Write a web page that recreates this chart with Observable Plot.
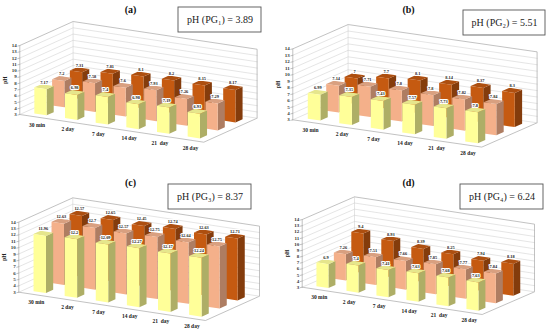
<!DOCTYPE html>
<html><head><meta charset="utf-8">
<style>html,body{margin:0;padding:0;background:#fff}svg{display:block}</style>
<script src="https://cdn.jsdelivr.net/npm/d3@7"></script>
<script src="https://cdn.jsdelivr.net/npm/@observablehq/plot@0.6"></script>
</head><body><div id="chart"></div>
<script>
const days = ["30 min","2 day","7 day","14 day","21  day","28 day"];
const phTicks = [3,4,5,6,7,8,9,10,11,12,13,14];
const titles = ["(a)","(b)","(c)","(d)"];
const boxes = ["pH (PG₁) = 3.89","pH (PG₂) = 5.51","pH (PG₃) = 8.37","pH (PG₄) = 6.24"];
const yellowA = [7.17,6.98,7.4,6.98,7.19,6.93];
const salmonA = [7.2,7.58,7.6,7.93,7.26,7.29];
const orangeA = [7.31,7.81,8.1,8.2,8.15,8.17];
const yellowB = [6.99,7.35,7.43,7.57,7.73,7.8];
const salmonB = [7.14,7.71,7.8,7.8,7.82,7.84];
const orangeB = [7,7.7,8.1,8.14,8.37,8.3];
const yellowC = [11.96,12.2,12.09,12.27,12.17,12.24];
const salmonC = [12.63,12.7,12.57,12.75,12.64,12.75];
const orangeC = [12.57,12.65,12.45,12.74,12.63,12.71];
const yellowD = [6.9,7.4,7.41,7.63,7.68,7.63];
const salmonD = [7.26,7.51,7.66,7.85,7.77,7.84];
const orangeD = [9.4,8.93,8.39,8.25,7.94,8.18];
const seriesColors = [
  {front:"#ffff99",top:"#e6e68c",side:"#aeae66"},
  {front:"#f4b08a",top:"#d9a080",side:"#ae7d62"},
  {front:"#c55a11",top:"#ad4f10",side:"#843c0c"}
];
const frames = [
  {ox:19.3,oy:114,dx:[184,27.7],dz:[53.3,-24],u:6.27,title:[130,9],box:[178,7,261,32]},
  {ox:292.3,oy:119.3,dx:[189,27.3],dz:[55.3,-24.3],u:6.45,title:[408,9],box:[463,10,545,35]},
  {ox:18.3,oy:291.7,dx:[186.7,28.3],dz:[54,-24.3],u:6.37,title:[130,182],box:[168,184,251,209]},
  {ox:301.7,oy:286.7,dx:[180,27.3],dz:[52.3,-22.7],u:6.15,title:[408,182],box:[460,184,543,209]}
];
const panels = [[yellowA,salmonA,orangeA],[yellowB,salmonB,orangeB],[yellowC,salmonC,orangeC],[yellowD,salmonD,orangeD]];
const serif = "'Liberation Serif','Times New Roman',serif";

function proj(f,a,b,v){
  return {x:f.ox+a*f.dx[0]+b*f.dz[0], y:f.oy+a*f.dx[1]+b*f.dz[1]-(v-3)*f.u};
}
const marks = [];
const poly = (pts,style)=>marks.push(Plot.line(pts,{x:"x",y:"y",curve:"linear",...style}));
const grid = {stroke:"#d4d4d4",strokeWidth:0.6};
const frameLine = {stroke:"#a8a8a8",strokeWidth:0.7};

frames.forEach((f,p)=>{
  phTicks.slice(1,-1).forEach(t=>{
    poly([proj(f,0,0,t),proj(f,0,1,t),proj(f,1,1,t)],grid);
  });
  poly([proj(f,0,0,3),proj(f,0,0,14),proj(f,0,1,14),proj(f,1,1,14),proj(f,1,1,3),proj(f,1,0,3),proj(f,0,0,3)],frameLine);
  poly([proj(f,0,0,3),proj(f,0,1,3),proj(f,1,1,3)],{stroke:"#c8c8c8",strokeWidth:0.5});
  poly([proj(f,0,1,3),proj(f,0,1,14)],{stroke:"#c8c8c8",strokeWidth:0.5});
  phTicks.forEach(t=>{
    const a=proj(f,0,0,t);
    poly([a,{x:a.x-2,y:a.y+0.5}],frameLine);
  });
  marks.push(Plot.text(phTicks,{x:t=>proj(f,0,0,t).x-3,y:t=>proj(f,0,0,t).y,text:d=>String(d),textAnchor:"end",fontSize:5,fontFamily:serif,fontWeight:"bold",fill:"#333"}));
  const mid=proj(f,0,0,8.5);
  marks.push(Plot.text(["pH"],{x:()=>mid.x-14.5,y:()=>mid.y,text:d=>d,rotate:-90,fontSize:5.5,fontFamily:serif,fontWeight:"bold",fill:"#222"}));
  days.forEach((d,i)=>{
    const a=proj(f,(i+.5)/6,0,3);
    marks.push(Plot.text([d],{x:()=>a.x+2,y:()=>a.y+8,text:t=>t,fontSize:5.5,fontFamily:serif,fontWeight:"bold",fill:"#222"}));
  });
  const labels=[];
  for(let s=2;s>=0;s--){
    days.forEach((d,i)=>{
      const v=panels[p][s][i];
      const a0=(i+.3)/6,a1=(i+.7)/6,b0=(s+.3)/3,b1=(s+.7)/3,c=seriesColors[s];
      poly([proj(f,a1,b0,3),proj(f,a1,b1,3),proj(f,a1,b1,v),proj(f,a1,b0,v)],{fill:c.side,stroke:"none"});
      poly([proj(f,a0,b0,v),proj(f,a1,b0,v),proj(f,a1,b1,v),proj(f,a0,b1,v)],{fill:c.top,stroke:"none"});
      poly([proj(f,a0,b0,3),proj(f,a1,b0,3),proj(f,a1,b0,v),proj(f,a0,b0,v)],{fill:c.front,stroke:"none"});
      const t=proj(f,(i+.5)/6,(s+.5)/3,v);
      labels.push({x:t.x,y:t.y-4.5,v});
    });
  }
  marks.push(Plot.text(labels,{x:"x",y:"y",text:d=>String(d.v),fontSize:4.4,fontFamily:serif,fontWeight:"bold",fill:"#222",stroke:"white",strokeWidth:2.2,paintOrder:"stroke"}));
  marks.push(Plot.text([titles[p]],{x:()=>f.title[0],y:()=>f.title[1],text:d=>d,fontSize:10,fontFamily:serif,fontWeight:"bold",fill:"#111"}));
  const [x1,y1,x2,y2]=f.box;
  marks.push(Plot.rect([0],{x1:()=>x1,x2:()=>x2,y1:()=>y1,y2:()=>y2,fill:"white",stroke:"#555",strokeWidth:0.9}));
  marks.push(Plot.text([boxes[p]],{x:()=>(x1+x2)/2,y:()=>(y1+y2)/2,text:d=>d,fontSize:10,fontFamily:serif,fill:"#222"}));
});

const chart = Plot.plot({
  width:550,height:331,margin:0,
  x:{domain:[0,550],range:[0,550],axis:null},
  y:{domain:[0,331],range:[0,331],axis:null},
  marks
});
document.getElementById("chart").append(chart);
</script></body></html>
